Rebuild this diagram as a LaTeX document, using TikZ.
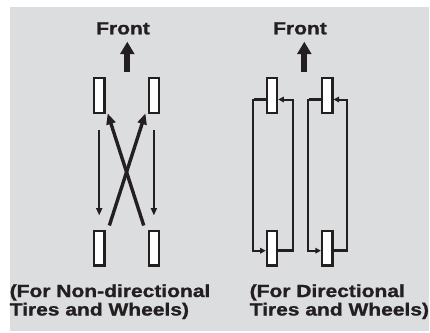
\documentclass[tikz,border=0pt]{standalone}
\usepackage{fontspec}
\setmainfont{Liberation Sans}[FakeStretch=1.2, BoldFeatures={FakeBold=1.2}]
\usetikzlibrary{arrows.meta,calc}
\definecolor{bg}{RGB}{220,221,223}
\definecolor{ink}{RGB}{35,31,32}
\begin{document}
\begin{tikzpicture}[x=1pt,y=-1pt,
  tire/.style={draw=ink, fill=white, line width=2.3pt, minimum width=10.3pt, minimum height=34.7pt, inner sep=0pt},
  lbl/.style={font=\fontsize{17.5}{18.5}\selectfont\bfseries, text=ink, inner sep=0pt, align=left},
  frontlbl/.style={font=\fontsize{17.5}{18.5}\selectfont\bfseries, text=ink, inner sep=0pt},
  bigarrow/.style={draw=ink, line width=5.7pt, -{Triangle[length=12.3pt,width=13.6pt]}},
  thinarrow/.style={draw=ink, line width=2.3pt, -{Triangle[length=7.5pt,width=6pt]}},
  crossarrow/.style={draw=ink, line width=3.4pt, -{Triangle[length=11pt,width=9pt]}},
  looparrow/.style={draw=ink, line width=2pt, -{Triangle[length=5.5pt,width=5.5pt]}},
  stub/.style={draw=ink, line width=3pt},
]
\useasboundingbox (0,0) rectangle (430,332);
\fill[bg] (10,7) rectangle (429,331);

% ---------- left: non-directional ----------
\node[frontlbl, anchor=base] (lfront) at (123,34.3) {Front};
\draw[bigarrow] ($(lfront.base)+(4.3,37.4)$) -- ($(lfront.base)+(4.3,7.4)$);

\node[tire] (tl) at (99.2,95.5) {};
\node[tire] (tr) at (153.9,95.5) {};
\node[tire] (bl) at (99.2,248) {};
\node[tire] (br) at (153.9,248) {};

\draw[thinarrow] ([yshift=-16pt]tl.south) -- ([yshift=14pt]bl.north);
\draw[thinarrow] ([yshift=-16pt]tr.south) -- ([yshift=14pt]br.north);
\draw[crossarrow] ($(bl.north east)+(3.85,-4)$) -- ($(tr.south west)+(-2.15,-0.7)$);
\draw[crossarrow] ($(br.north west)+(-3.85,-4)$) -- ($(tl.south east)+(2.15,-0.7)$);

\node[lbl, anchor=base west] (ltext) at (9.5,315.5) {(For Non-directional\\Tires and Wheels)};

% ---------- right: directional ----------
\node[frontlbl, anchor=base] (rfront) at (300,34.3) {Front};
\draw[bigarrow] ($(rfront.base)+(4.3,37.4)$) -- ($(rfront.base)+(4.3,7.4)$);

\node[tire] (rtl) at (272,95.5) {};
\node[tire] (rtr) at (327.2,95.5) {};
\node[tire] (rbl) at (272,248) {};
\node[tire] (rbr) at (327.2,248) {};

\draw[looparrow] ([yshift=-4pt]rtl.west) -- ++(-13,0) |- ([yshift=-2.7pt]rbl.west);
\draw[looparrow] ([yshift=-2.7pt]rbl.east) -- ++(14.5,0) |- ([yshift=-4pt]rtl.east);
\draw[stub] ([yshift=-4pt]rtl.west) -- ++(-12,0);
\draw[stub] ([yshift=-2.7pt]rbl.east) -- ++(13.5,0);

\draw[looparrow] ([yshift=-4pt]rtr.west) -- ++(-13,0) |- ([yshift=-2.7pt]rbr.west);
\draw[looparrow] ([yshift=-2.7pt]rbr.east) -- ++(13,0) |- ([yshift=-4pt]rtr.east);
\draw[stub] ([yshift=-4pt]rtr.west) -- ++(-12,0);
\draw[stub] ([yshift=-2.7pt]rbr.east) -- ++(12,0);

\node[lbl, anchor=base west] (rtext) at (249.5,315.5) {(For Directional\\Tires and Wheels)};
\end{tikzpicture}
\end{document}
